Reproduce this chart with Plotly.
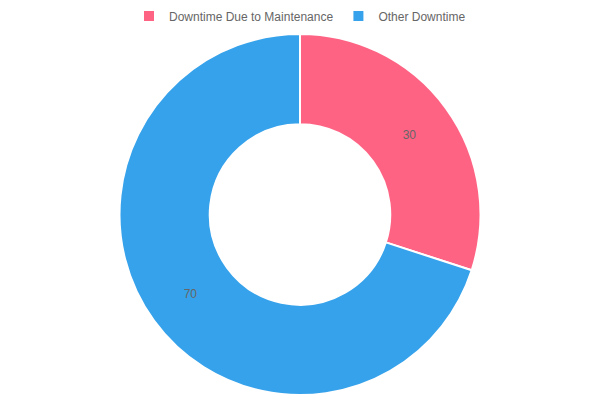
import plotly.graph_objects as go

labels = ["Downtime Due to Maintenance", "Other Downtime"]
values = [30, 70]
colors = ["#FF6384", "#36A2EB"]

fig = go.Figure(go.Pie(
    labels=labels,
    values=values,
    hole=0.5,
    sort=False,
    direction="clockwise",
    rotation=0,
    marker=dict(colors=colors, line=dict(color="white", width=2)),
    texttemplate="%{value}",
    textposition="inside",
    insidetextorientation="horizontal",
    textfont=dict(color="#666666", size=12, family="Arial"),
    showlegend=True,
))

fig.update_layout(
    width=600, height=400,
    margin=dict(l=0, r=0, t=34, b=5),
    paper_bgcolor="white",
    font=dict(family="Arial", color="#666666", size=12),
    legend=dict(
        orientation="h",
        xanchor="center", x=0.5,
        yref="container", yanchor="middle", y=0.96,
        font=dict(size=12, color="#666666"),
    ),
)

# page body has a default 8px margin, drop it so the chart sits at 0,0
fig.write_html(
    "out.html",
    config={"displayModeBar": False},
    post_script="document.body.style.margin='0';",
)
